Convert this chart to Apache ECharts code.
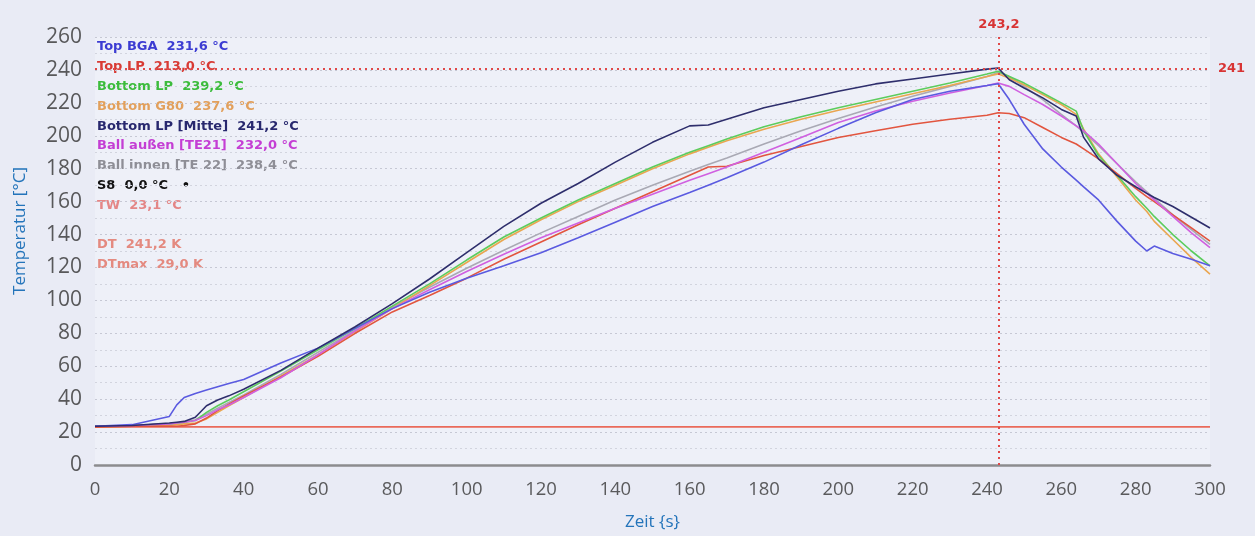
<!DOCTYPE html>
<html>
<head>
<meta charset="utf-8">
<script src="https://cdn.jsdelivr.net/npm/echarts@6/dist/echarts.min.js"></script>
<style>
html,body{margin:0;padding:0;background:#e9ebf5;}
#chart{width:1255px;height:536px;}
</style>
</head>
<body>
<div id="chart"></div>
<script>
// ---- data (time in s, temperature in °C) ----
const times = [0,10,20,22,24,27,30,33,36,40,50,60,70,80,90,100,110,120,130,140,150,160,165,170,180,190,200,210,220,230,240,243,246,250,255,260,264,266,270,275,280,283,285,290,295,300];

const topBGA = [23.5,24.5,29.5,36.5,41,43.5,45.5,47.5,49.5,52,62,71,83,95,105,113.5,121,129,138,147.5,157,165.5,170,174.5,184,194.5,204.5,214,222,227,230.5,231.6,222,207,192,181,173,169,161,148,136,130,133,128.5,125,121];
const topLP = [23,23.5,23.5,23.5,24,25,28.5,33,37,42,53.5,66,80,93,103,113.5,125,135.5,146,156,166,176,181,181.5,188,193.5,199,203,207,210,212.5,214,213.5,211,205,199,195,192,186,177,168,163,160,152,144,136];
const bottomLP = [23.5,24,25,25.5,26,27,32,36,39.5,44.5,57,70,83,96.5,110,124.5,138.5,150,161,171,181,190,194,198,205.5,211.5,217,222,227,232,237.5,239.2,236,232,226,220,215,203,188,176,163,156,151,140,130,121];
const bottomG80 = [23,23.5,24,24.5,25,25.5,28,32,36,41,54,67,81,95,109,123,137,149,160,170,180,189,193,197,204,210,215.5,220.5,225.5,230.5,236,237.6,235,231,225,219,213,204,189,175,161,154,148,137,126,116];
const bottomLPMitte = [23.5,24,25.5,26,26.5,29,36,39.5,42,46,57.5,71,84,98,113,129,145,159,171,184,196,206,206.5,210,217,222,227,231.5,234.5,237.5,240.5,241.2,234,229,223,216,212,199,186,176,169,165,162.5,157,150.5,144];
const ballAussen = [23.5,24,25,25.5,26,27,30,33.5,36.5,41,53,67,81.5,95,106.5,117.5,128,138,147,156,164.5,173,177,181,190,199,208,215,221,226,230.5,232,230,225,219,212,206,203,195,183,171,165,161,151,141,132];
const ballInnen = [23.5,24,25,25.5,26,27.5,31,34.5,38,42.5,55,68.5,82,96,108,119.5,130.5,141,151,161,170,178.5,182.5,186.5,195,203,210.5,217.5,224,230,236,238.4,236,230,222,213,206,202,194,183,172,166,162,152,143,134];
const tw = [23.1,23.1];
const twTimes = [0,300];

// markers
const peakTime = 243.2;
const peakTempLine = 241;

// label block of the profiler
const infoNames  = ['Top BGA','Top LP','Bottom LP','Bottom G80','Bottom LP [Mitte]','Ball außen [TE21]','Ball innen [TE 22]','S8','TW','','DT','DTmax'];
const infoValues = ['231,6 °C','213,0 °C','239,2 °C','237,6 °C','241,2 °C','232,0 °C','238,4 °C','0,0 °C   •','23,1 °C','','241,2 K','29,0 K'];
const infoColors = ['#3c3cd2','#d83a34','#3cbc3c','#e2a05c','#28286e','#c43ed4','#8e8e96','#111111','#e48686','#000','#e48a80','#e48a80'];

// axis
const xTicks = {min:0, max:300, interval:20};
const yTicks = {min:0, max:260, interval:20};

function pairs(ts, vs){ return ts.map((t,i)=>[t,vs[i]]); }

const chart = echarts.init(document.getElementById('chart'), null, {renderer:'canvas'});

function line(name, color, vals, extra){
  return Object.assign({
    name, type:'line', data: pairs(times, vals), showSymbol:false, symbol:'none',
    lineStyle:{color, width:1.6}, itemStyle:{color}, z:3
  }, extra||{});
}

const markStyle = {color:'#e04848', width:2, type:[2,4]};
const markLabel = {color:'#d83434', fontWeight:'bold', fontSize:13, fontFamily:'"DejaVu Sans", sans-serif'};

const series = [
  {name:'TW', type:'line', data: pairs(twTimes, tw), showSymbol:false, symbol:'none', lineStyle:{color:'#ea6a5a', width:1.8}, z:2},
  line('Ball innen [TE 22]', '#a9a9b4', ballInnen),
  line('Bottom G80', '#eaa650', bottomG80),
  line('Bottom LP', '#5ccc5c', bottomLP),
  line('Top LP', '#e2553f', topLP),
  line('Ball außen [TE21]', '#d060e0', ballAussen),
  line('Top BGA', '#5a5ae0', topBGA),
  line('Bottom LP [Mitte]', '#2e2e6c', bottomLPMitte, {
    markLine:{
      symbol:['none','none'], silent:true, animation:false,
      lineStyle: markStyle,
      data:[
        {xAxis: peakTime, label:Object.assign({show:true, position:'end', formatter:'243,2', distance:6}, markLabel)},
        {yAxis: peakTempLine, label:Object.assign({show:true, position:'end', formatter:'241', distance:8}, markLabel)}
      ]
    }
  })
];

const graphics = infoNames.map((n,i)=>({
  type:'text', left:97, top: 40.5 + i*19.8, silent:true,
  style:{ text: n ? (n + '  ' + infoValues[i]) : '', fill: infoColors[i],
    font:'bold 13px "DejaVu Sans", sans-serif' }
}));

const option = {
  backgroundColor:'#e9ebf5',
  animation:false,
  grid:{left:95, right:45, top:37, bottom:69.5, show:true, backgroundColor:'#eef0f8', borderWidth:0},
  xAxis:{
    type:'value', min:xTicks.min, max:xTicks.max, interval:xTicks.interval, offset:3,
    axisLine:{show:true, lineStyle:{color:'#8c8c8e', width:2.5}},
    axisTick:{show:false}, splitLine:{show:false},
    axisLabel:{fontSize:18.5, color:'#5a5a5c', margin:12, fontFamily:'"Open Sans", sans-serif'},
    name:'Zeit {s}', nameLocation:'middle', nameGap:46,
    nameTextStyle:{color:'#2474ba', fontSize:17, fontFamily:'"Open Sans", sans-serif'}
  },
  yAxis:{
    type:'value', min:yTicks.min, max:yTicks.max, interval:yTicks.interval,
    axisLine:{show:false}, axisTick:{show:false},
    axisLabel:{fontSize:21, color:'#58585a', margin:13, fontFamily:'"Open Sans", sans-serif'},
    splitLine:{show:true, lineStyle:{color:'#c6c8d4', type:[2,3], width:1}},
    minorTick:{show:false, splitNumber:2},
    minorSplitLine:{show:true, lineStyle:{color:'#d2d4de', type:[2,3], width:1}},
    name:'Temperatur [°C]', nameLocation:'middle', nameGap:66, nameRotate:90,
    nameTextStyle:{color:'#2474ba', fontSize:17, fontFamily:'"Open Sans", sans-serif', padding:[0,0,0,40]}
  },
  graphic: graphics,
  series
};
chart.setOption(option);
</script>
</body>
</html>
